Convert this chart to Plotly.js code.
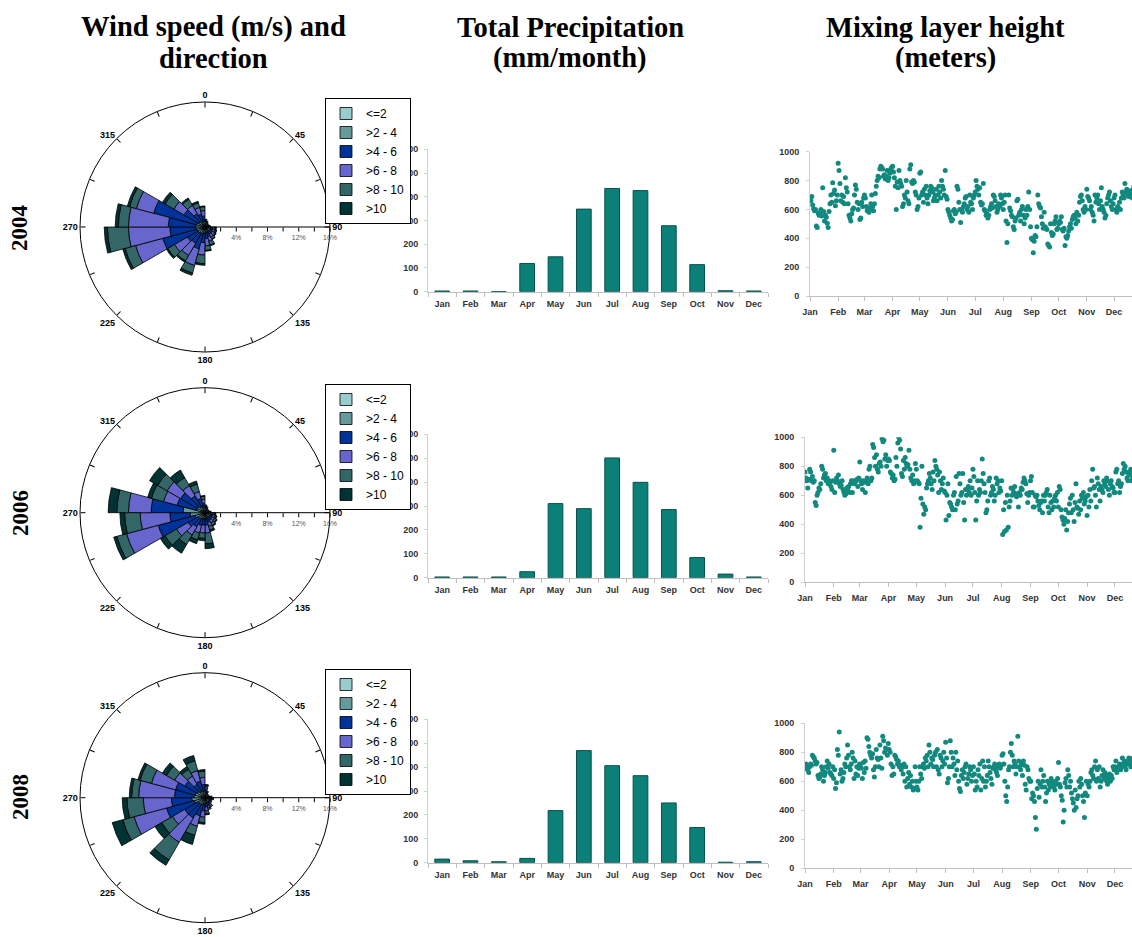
<!DOCTYPE html>
<html><head><meta charset="utf-8">
<script src="https://cdn.plot.ly/plotly-3.0.1.min.js"></script>
<style>html,body{margin:0;padding:0;background:#fff;}#chart{width:1132px;height:937px;}</style>
</head><body><div id="chart"></div>
<script>
// ---------- Wind rose data (percent of time, per 15-degree sector) ----------
const directions = [7.5,22.5,37.5,52.5,67.5,82.5,97.5,112.5,127.5,142.5,157.5,172.5,187.5,202.5,217.5,232.5,247.5,262.5,277.5,292.5,307.5,322.5,337.5,352.5];
const speedClasses = ['<=2','>2 - 4','>4 - 6','>6 - 8','>8 - 10','>10'];
const speedColors = ['#99cccc','#669999','#003399','#6666cc','#336666','#003333'];
const years = ['2004','2006','2008'];

const rose2004_c1 = [0.3,0.3,0.3,0.3,0.3,0.3,0.3,0.3,0.3,0.3,0.3,0.3,0.3,0.3,0.3,0.3,0.3,0.3,0.3,0.3,0.3,0.3,0.3,0.3];
const rose2004_c2 = [0.4,0.3,0.2,0.2,0.2,0.3,0.4,0.4,0.4,0.4,0.4,0.4,0.5,0.6,0.6,0.7,0.8,0.9,0.9,0.8,0.6,0.5,0.5,0.4];
const rose2004_c3 = [0.2,0.2,0.1,0,0.1,0.1,0.3,0.3,0.4,0.4,0.6,0.8,1.2,2.0,1.5,1.6,4.5,3.3,3.5,5.7,2.2,1.2,0.9,0.7];
const rose2004_c4 = [0.1,0,0,0,0,0,0.3,0.3,0.3,0.4,0.6,0.9,1.6,2.2,1.8,1.9,3.6,5.3,5.1,2.3,1.5,1.2,0.9,0.7];
const rose2004_c5 = [0,0,0,0,0,0,0.1,0.2,0.2,0.3,0.5,0.6,1.1,1.0,0.8,1.0,1.4,2.7,1.3,0.9,1.3,0.9,0.6,0.5];
const rose2004_c6 = [0,0,0,0,0,0,0.05,0.05,0.05,0.05,0.1,0.1,0.2,0.3,0.2,0.2,0.3,0.4,0.4,0.3,0.4,0.2,0.2,0.1];

const rose2006_c1 = [0.3,0.3,0.3,0.3,0.3,0.3,0.3,0.3,0.3,0.3,0.3,0.3,0.3,0.3,0.3,0.3,0.4,0.4,0.5,0.3,0.3,0.3,0.3,0.3];
const rose2006_c2 = [0.4,0.3,0.2,0.2,0.2,0.3,0.4,0.4,0.4,0.4,0.4,0.5,0.5,0.5,0.6,0.7,0.9,1.5,2.3,0.8,0.8,0.6,0.5,0.4];
const rose2006_c3 = [0.2,0.2,0.1,0,0.1,0.2,0.3,0.3,0.4,0.4,0.6,0.8,0.8,0.9,1.2,1.5,4.9,2.6,4.1,2.6,2.5,1.6,1.1,0.5];
const rose2006_c4 = [0.1,0,0,0,0,0,0.2,0.3,0.3,0.4,0.5,1.0,1.0,1.0,1.2,1.7,4.2,3.8,2.9,1.8,2.0,1.5,0.9,0.5];
const rose2006_c5 = [0,0,0,0,0,0,0.15,0.2,0.3,0.4,0.5,1.4,0.7,0.9,1.4,1.7,1.3,2.0,1.5,1.6,1.4,1.2,1.0,0.4];
const rose2006_c6 = [0,0,0,0,0,0,0.05,0.1,0.1,0.1,0.2,0.6,0.3,0.5,1.3,0.7,0.4,0.6,1.1,0.5,1.2,1.1,0.4,0.1];

const rose2008_c1 = [0.3,0.3,0.3,0.3,0.3,0.3,0.3,0.3,0.3,0.3,0.3,0.3,0.3,0.3,0.3,0.3,0.4,0.4,0.4,0.4,0.3,0.3,0.3,0.3];
const rose2008_c2 = [0.4,0.3,0.2,0.2,0.2,0.3,0.4,0.3,0.3,0.4,0.4,0.4,0.5,0.6,0.7,0.7,1.0,1.3,1.0,0.9,0.8,0.6,0.6,0.5];
const rose2008_c3 = [0.4,0.2,0.1,0,0.1,0.2,0.2,0.2,0.2,0.3,0.4,0.5,0.9,1.5,2.0,2.0,3.7,2.6,2.5,2.6,1.9,1.1,1.3,0.9];
const rose2008_c4 = [0.3,0.1,0,0,0,0.1,0.1,0.1,0.1,0.2,0.3,0.5,0.8,1.4,3.6,1.8,4.3,3.6,4.6,3.2,1.5,1.2,1.4,0.9];
const rose2008_c5 = [0.2,0,0,0,0,0,0.1,0,0.1,0.2,0.2,0.4,0.7,1.2,2.6,1.6,1.5,2.1,0.9,1.5,1.2,1.0,1.3,0.8];
const rose2008_c6 = [0.1,0,0,0,0,0,0,0,0,0,0,0.1,0.2,1.2,0.8,1.0,1.4,0.6,0.3,0.3,0.6,0.4,0.7,0.2];

// ---------- Precipitation (mm/month) ----------
const months = ['Jan','Feb','Mar','Apr','May','Jun','Jul','Aug','Sep','Oct','Nov','Dec'];
const precip2004 = [3,3,0,119,147,348,435,426,278,114,4,3];
const precip2006 = [3,3,3,25,310,289,501,399,285,84,15,3];
const precip2008 = [15,8,4,18,218,469,406,364,250,147,2,4];

// ---------- Mixing layer height (m), daily ----------
const monthStartsLeap = [1,32,61,92,122,153,183,214,245,275,306,336];
const monthStartsNoLeap = [1,32,60,91,121,152,182,213,244,274,305,335];
const mlh2004 = [
680,660,690,630,605,590,600,485,475,575,560,570,600,555,750,585,520,560,545,505,475,585,640,700,650,785,710,735,625,660,700,
920,870,780,660,700,650,690,640,820,750,720,640,560,540,520,570,600,610,700,770,740,650,600,640,530,540,650,620,680,
700,680,620,590,610,580,600,640,700,620,590,640,710,760,800,830,820,880,900,890,880,830,840,810,830,870,800,820,850,880,890,
900,860,820,760,600,790,750,870,800,780,760,620,640,700,680,800,720,660,640,880,910,790,780,800,790,720,700,600,620,680,
850,860,700,720,650,740,700,760,680,640,700,730,760,750,720,660,680,700,740,660,700,760,720,680,800,760,740,700,870,690,670,
600,580,560,540,520,530,590,600,570,580,760,740,650,600,510,600,580,620,640,680,690,600,620,580,700,650,640,600,680,700,
720,800,760,740,700,750,650,630,640,780,600,590,560,570,540,560,600,620,640,610,700,690,660,620,580,600,640,620,700,680,640,
600,650,700,520,370,500,700,610,590,560,550,480,460,520,540,660,670,560,580,520,600,620,560,500,540,600,560,620,720,600,480,
400,390,300,380,420,410,480,700,640,620,610,550,500,470,580,480,470,460,360,350,340,500,440,420,430,500,520,550,460,470,
500,520,510,550,460,450,470,350,410,400,420,450,480,500,470,530,550,560,540,500,580,520,560,650,690,700,660,600,580,620,600,
740,690,680,660,600,620,580,560,520,700,650,680,700,640,600,660,750,620,600,580,540,560,640,680,700,720,660,620,600,640,
680,700,600,580,620,610,650,600,680,720,700,680,780,720,740,700,690,730,700,720,680,740,760,700,720,680,750,700,730,760,720];
const mlh2006 = [
760,720,700,650,710,780,760,700,730,690,700,550,530,600,620,650,640,680,800,780,720,740,750,700,720,680,700,690,660,640,700,
910,620,690,720,700,740,680,660,670,700,640,620,600,610,650,640,660,620,680,700,620,700,680,690,700,710,660,720,
830,700,680,640,700,690,620,700,720,680,780,800,700,720,950,930,860,800,880,780,760,820,830,800,990,970,980,850,880,800,840,
850,840,760,750,720,740,700,710,860,800,960,1000,980,920,750,730,840,780,860,820,800,810,910,780,720,700,740,680,700,820,
780,700,690,680,380,580,800,540,470,520,500,650,680,700,750,720,680,640,760,700,840,800,780,740,620,760,700,640,680,720,630,
620,430,600,680,460,550,540,520,500,600,620,500,730,540,560,750,680,600,620,750,550,430,640,600,640,660,620,700,600,650,
780,730,620,430,560,700,600,640,620,700,850,750,680,620,480,500,560,700,720,600,620,660,640,560,600,720,680,700,620,650,630,
700,330,500,350,550,360,600,380,520,560,650,600,640,620,660,610,590,600,520,620,600,650,640,690,720,700,680,610,550,600,620,
700,730,620,520,520,600,590,600,560,530,500,550,560,480,600,560,600,620,640,520,480,600,550,500,560,520,580,600,560,620,
520,660,640,500,450,430,400,440,500,360,420,480,540,580,480,600,500,420,550,680,520,510,470,560,500,600,580,620,540,560,590,
460,600,520,640,560,700,780,650,660,600,520,720,680,640,560,660,640,620,700,680,660,720,700,640,600,680,700,660,650,620,
620,760,780,680,700,620,660,680,750,820,780,800,760,720,700,740,760,780,700,720,740,760,720,700,740,760,780,720,740,760,700];
const mlh2008 = [
690,720,700,680,660,700,720,710,780,770,760,740,720,730,640,620,630,650,700,680,600,640,660,700,740,690,720,660,650,640,700,
620,680,550,590,820,780,940,650,680,600,620,660,720,700,760,850,780,700,680,720,800,760,620,740,650,700,640,690,720,
700,690,620,730,660,740,690,900,890,840,800,780,760,790,680,630,700,820,760,750,700,850,760,690,910,880,800,830,820,780,860,
820,800,720,640,700,650,780,770,750,720,740,700,710,680,700,650,720,600,700,560,620,660,580,640,560,600,540,550,700,600,
560,540,600,700,650,620,700,720,690,760,740,780,700,850,800,720,760,750,700,780,800,700,820,680,650,780,760,700,740,800,720,
870,760,590,620,700,880,800,700,760,720,640,800,680,740,600,550,530,640,680,620,660,700,720,580,620,650,700,680,600,640,
700,650,540,600,560,680,640,720,540,620,740,600,700,560,600,640,740,700,660,620,580,690,700,720,680,660,640,700,720,690,710,
780,790,720,600,500,460,560,680,700,800,860,780,700,740,720,650,700,910,740,700,680,720,640,740,710,580,540,700,680,620,600,
600,480,520,500,460,350,270,550,600,490,580,680,560,600,640,560,460,520,600,540,580,560,620,600,580,560,540,600,580,620,
730,580,560,500,470,320,400,590,620,560,680,640,560,600,520,480,450,400,540,420,480,500,600,560,620,580,500,460,350,520,600,
500,580,560,600,660,680,640,620,700,740,600,680,620,700,560,600,640,680,620,660,640,600,580,620,650,600,640,620,700,680,
700,740,660,680,700,720,680,700,760,720,740,700,680,720,740,760,720,700,740,760,720,700,740,760,720,740,700,760,720,740,760];

// ---------- Build figure ----------
const W = 1132, H = 937;
const px = v => v / W;
const py = v => 1 - v / H;          // from top pixel to paper y
const roseData = {
  '2004': [rose2004_c1, rose2004_c2, rose2004_c3, rose2004_c4, rose2004_c5, rose2004_c6],
  '2006': [rose2006_c1, rose2006_c2, rose2006_c3, rose2006_c4, rose2006_c5, rose2006_c6],
  '2008': [rose2008_c1, rose2008_c2, rose2008_c3, rose2008_c4, rose2008_c5, rose2008_c6]
};
const precipData = {'2004': precip2004, '2006': precip2006, '2008': precip2008};
const mlhData = {'2004': mlh2004, '2006': mlh2006, '2008': mlh2008};
const leap = {'2004': true, '2006': false, '2008': true};

// pixel geometry of each row (top-pixel coordinates)
const rows = [
  {roseC: 227,   legTop: 98,  barZero: 291.7, bar600: 149.3, scZero: 296,   sc1000: 151.7, scX0: 810, scEnd: 355.8, label: 228},
  {roseC: 512.7, legTop: 384, barZero: 577.7, bar600: 434.3, scZero: 582.3, sc1000: 437.3, scX0: 805, scEnd: 353.4, label: 513},
  {roseC: 797.7, legTop: 669, barZero: 862.7, bar600: 719.3, scZero: 868.3, sc1000: 723.3, scX0: 805, scEnd: 354.4, label: 797}
];

const data = [];
const layout = {
  width: W, height: H, margin: {l:0, r:0, t:0, b:0},
  paper_bgcolor: '#fff', plot_bgcolor: '#fff', showlegend: true, hovermode: false,
  font: {family: 'Liberation Sans, Arial, sans-serif', color: '#000'},
  annotations: []
};
const tickFont = {family: 'Liberation Sans, Arial, sans-serif', size: 9, weight: 'bold', color: '#333'};
const angTicks = [];
for (let a = 0; a < 360; a += 22.5) angTicks.push(a);
const angText = angTicks.map(a => (a % 45 === 0 ? String(a) : ''));

years.forEach((yr, i) => {
  const row = rows[i];
  const n = i + 1;
  const polarId = n === 1 ? 'polar' : 'polar' + n;
  const legendId = n === 1 ? 'legend' : 'legend' + n;
  // wind rose
  speedClasses.forEach((cls, k) => {
    data.push({
      type: 'barpolar', subplot: polarId, legend: legendId,
      r: roseData[yr][k], theta: directions, width: 15, name: cls,
      marker: {color: speedColors[k], line: {color: '#000', width: 0.8}}
    });
  });
  const R = 125;
  layout[polarId] = {
    domain: {x: [px(205 - R), px(205 + R)], y: [py(row.roseC + R), py(row.roseC - R)]},
    bgcolor: '#fff', bargap: 0, barmode: 'stack',
    angularaxis: {rotation: 90, direction: 'clockwise', tickvals: angTicks, ticktext: angText,
      ticks: 'inside', ticklen: 5, tickcolor: '#000', showline: true, linecolor: '#000', linewidth: 1,
      showgrid: false, tickfont: {family: 'Liberation Sans, Arial, sans-serif', size: 9, weight: 'bold', color: '#000'}},
    radialaxis: {range: [0, 16], angle: 0, side: 'clockwise', tickvals: [2,4,6,8,10,12,14,16],
      ticktext: ['', '4%', '', '8%', '', '12%', '', '16%'], showgrid: false, showline: true,
      linecolor: '#000', linewidth: 1, ticks: 'outside', ticklen: 4, tickcolor: '#000', ticklabelstandoff: 3,
      tickfont: {family: 'Liberation Sans, Arial, sans-serif', size: 7, color: '#555'}}
  };
  layout[legendId] = {
    x: px(325), y: py(row.legTop), xanchor: 'left', yanchor: 'top', traceorder: 'normal',
    bgcolor: '#fff', bordercolor: '#000', borderwidth: 1, itemwidth: 30,
    font: {family: 'Liberation Sans, Arial, sans-serif', size: 12, color: '#000'}
  };

  // precipitation bars
  const bx = 'x' + (n === 1 ? '' : n), by = 'y' + (n === 1 ? '' : n);
  data.push({
    type: 'bar', x: months, y: precipData[yr], xaxis: bx, yaxis: by, width: 0.52, showlegend: false,
    marker: {color: '#0b8078', line: {color: '#06504b', width: 1}}
  });
  layout['xaxis' + (n === 1 ? '' : n)] = {
    domain: [px(428), px(768)], anchor: by, type: 'category', showline: true, linecolor: '#bfbfbf',
    ticks: 'outside', tickson: 'boundaries', ticklen: 4, tickcolor: '#bfbfbf', ticklabelstandoff: 3,
    tickfont: tickFont, showgrid: false, zeroline: false, fixedrange: true
  };
  layout['yaxis' + (n === 1 ? '' : n)] = {
    domain: [py(row.barZero), py(row.bar600)], anchor: bx, range: [0, 600], dtick: 100,
    showline: true, linecolor: '#d0d0d0', ticks: 'outside', ticklen: 3, tickcolor: '#d0d0d0',
    ticklabelstandoff: 4, tickfont: tickFont, showgrid: false, zeroline: false, fixedrange: true
  };

  // mixing layer height scatter
  const m = n + 3;
  const sx = 'x' + m, sy = 'y' + m;
  const vals = mlhData[yr];
  data.push({
    type: 'scatter', mode: 'markers', x: vals.map((_, d) => d + 1), y: vals, xaxis: sx, yaxis: sy,
    showlegend: false, marker: {color: '#12897f', size: 5}, cliponaxis: true
  });
  layout['xaxis' + m] = {
    domain: [px(row.scX0), 1], anchor: sy, range: [1, row.scEnd],
    tickvals: leap[yr] ? monthStartsLeap : monthStartsNoLeap, ticktext: months,
    showline: true, linecolor: '#bfbfbf', ticks: 'outside', ticklen: 4, tickcolor: '#bfbfbf',
    ticklabelstandoff: 3, tickfont: tickFont, showgrid: false, zeroline: false, fixedrange: true
  };
  layout['yaxis' + m] = {
    domain: [py(row.scZero), py(row.sc1000)], anchor: sx, range: [0, 1000], dtick: 200,
    showline: true, linecolor: '#d0d0d0', ticks: 'outside', ticklen: 3, tickcolor: '#d0d0d0',
    ticklabelstandoff: 5, tickfont: tickFont, showgrid: false, zeroline: false, fixedrange: true
  };

  // row label
  layout.annotations.push({
    text: '<b>' + yr + '</b>', xref: 'paper', yref: 'paper', x: px(20), y: py(row.label),
    xanchor: 'center', yanchor: 'middle', textangle: -90, showarrow: false,
    font: {family: 'Liberation Serif, Times New Roman, serif', size: 23, color: '#000'}
  });
});

// column headers
const headers = [
  {lines: ['Wind speed (m/s) and', 'direction'], x: 213},
  {lines: ['Total Precipitation', '(mm/month)'], x: 570},
  {lines: ['Mixing layer height', '(meters)'], x: 945}
];
headers.forEach(h => {
  h.lines.forEach((t, j) => {
    layout.annotations.push({
      text: '<b>' + t + '</b>', xref: 'paper', yref: 'paper', x: px(h.x), y: py(j === 0 ? 27 : 58),
      xanchor: 'center', yanchor: 'middle', showarrow: false,
      font: {family: 'Liberation Serif, Times New Roman, serif', size: 28.5, color: '#000'}
    });
  });
});

Plotly.newPlot('chart', data, layout, {displayModeBar: false, staticPlot: true});
</script>
</body></html>
